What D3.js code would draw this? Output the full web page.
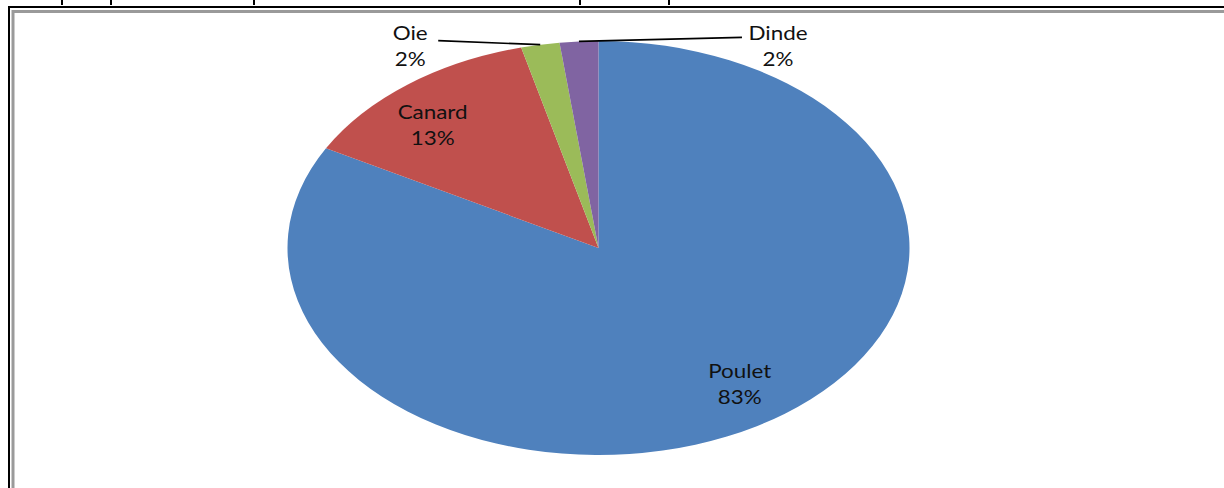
<!DOCTYPE html>
<html>
<head>
<meta charset="utf-8">
<script src="https://cdn.jsdelivr.net/npm/d3@7"></script>
<style>
  body { margin: 0; background: #fff; }
  svg { display: block; }
</style>
</head>
<body>
<svg></svg>
<script>
// data
const categories = ["Poulet", "Canard", "Oie", "Dinde"];
const shares = [83, 13, 2, 2];
const colors = ["#4F81BD", "#C0504D", "#9BBB59", "#8064A2"];

const width = 1224;
const height = 488;

const svg = d3.select("svg")
    .attr("width", width)
    .attr("height", height);

// frame (black outer + grey inner), only top and left visible
svg.append("path")
    .attr("d", `M9,${height} V7 H${width}`)
    .attr("fill", "none")
    .attr("stroke", "#000")
    .attr("stroke-width", 2);
svg.append("path")
    .attr("d", `M13,${height} V11.5 H${width}`)
    .attr("fill", "none")
    .attr("stroke", "#9a9a9a")
    .attr("stroke-width", 3);

// bits of the cut-off title above the frame
[62, 111, 254, 580, 669].forEach(x => {
    svg.append("rect")
        .attr("x", x - 1).attr("y", 0)
        .attr("width", 2).attr("height", 5)
        .attr("fill", "#000");
});

// pie is a circle stretched sideways into an ellipse
const cx = 598.5, cy = 248;
const r = 207;
const sx = 311 / 207;

const pie = d3.pie().sort(null).value(d => d.value);
const arcs = pie(categories.map((c, i) => ({ name: c, value: shares[i], color: colors[i] })));

const arc = d3.arc().innerRadius(0).outerRadius(r);

svg.append("g")
    .attr("transform", `translate(${cx},${cy}) scale(${sx},1)`)
    .selectAll("path")
    .data(arcs)
    .enter()
    .append("path")
    .attr("d", arc)
    .attr("fill", d => d.data.color);

// label positions
const edge = d3.arc().innerRadius(r).outerRadius(r);

const fontSize = 19;
const lineGap = 26;

function drawLabel(x, y, lines) {
    const t = svg.append("text")
        .attr("transform", `translate(${x},${y}) scale(1.18,1)`)
        .attr("text-anchor", "middle")
        .attr("font-family", "Lato, 'DejaVu Sans', sans-serif")
        .attr("font-size", fontSize)
        .attr("fill", "#111");
    lines.forEach((s, i) => {
        t.append("tspan")
            .attr("x", 0)
            .attr("y", i * lineGap)
            .text(s);
    });
}

arcs.forEach(d => {
    const lines = [d.data.name, d.data.value + "%"];
    if (d.data.value >= 5) {
        // excel puts these a little before the mid angle
        const a = (d.startAngle + d.endAngle) / 2 - 0.07;
        const x = cx + Math.sin(a) * r * 0.8 * sx;
        const y = cy - Math.cos(a) * r * 0.8;
        drawLabel(x, y - 6, lines);
    } else {
        // small slices: label outside, with a leader line
        const [ex, ey] = edge.centroid(d);
        const x0 = cx + ex * sx;
        const y0 = cy + ey;
        const left = d.index < arcs.length - 1;
        const lx = left ? x0 - 102 : x0 + 163;
        const ly = y0 - 4;
        svg.append("polyline")
            .attr("points", [[x0, y0], [lx, ly]].map(p => p.join(",")).join(" "))
            .attr("fill", "none")
            .attr("stroke", "#000")
            .attr("stroke-width", 1.6);
        const tx = left ? lx - 28 : lx + 36;
        drawLabel(tx, 40, lines);
    }
});
</script>
</body>
</html>
